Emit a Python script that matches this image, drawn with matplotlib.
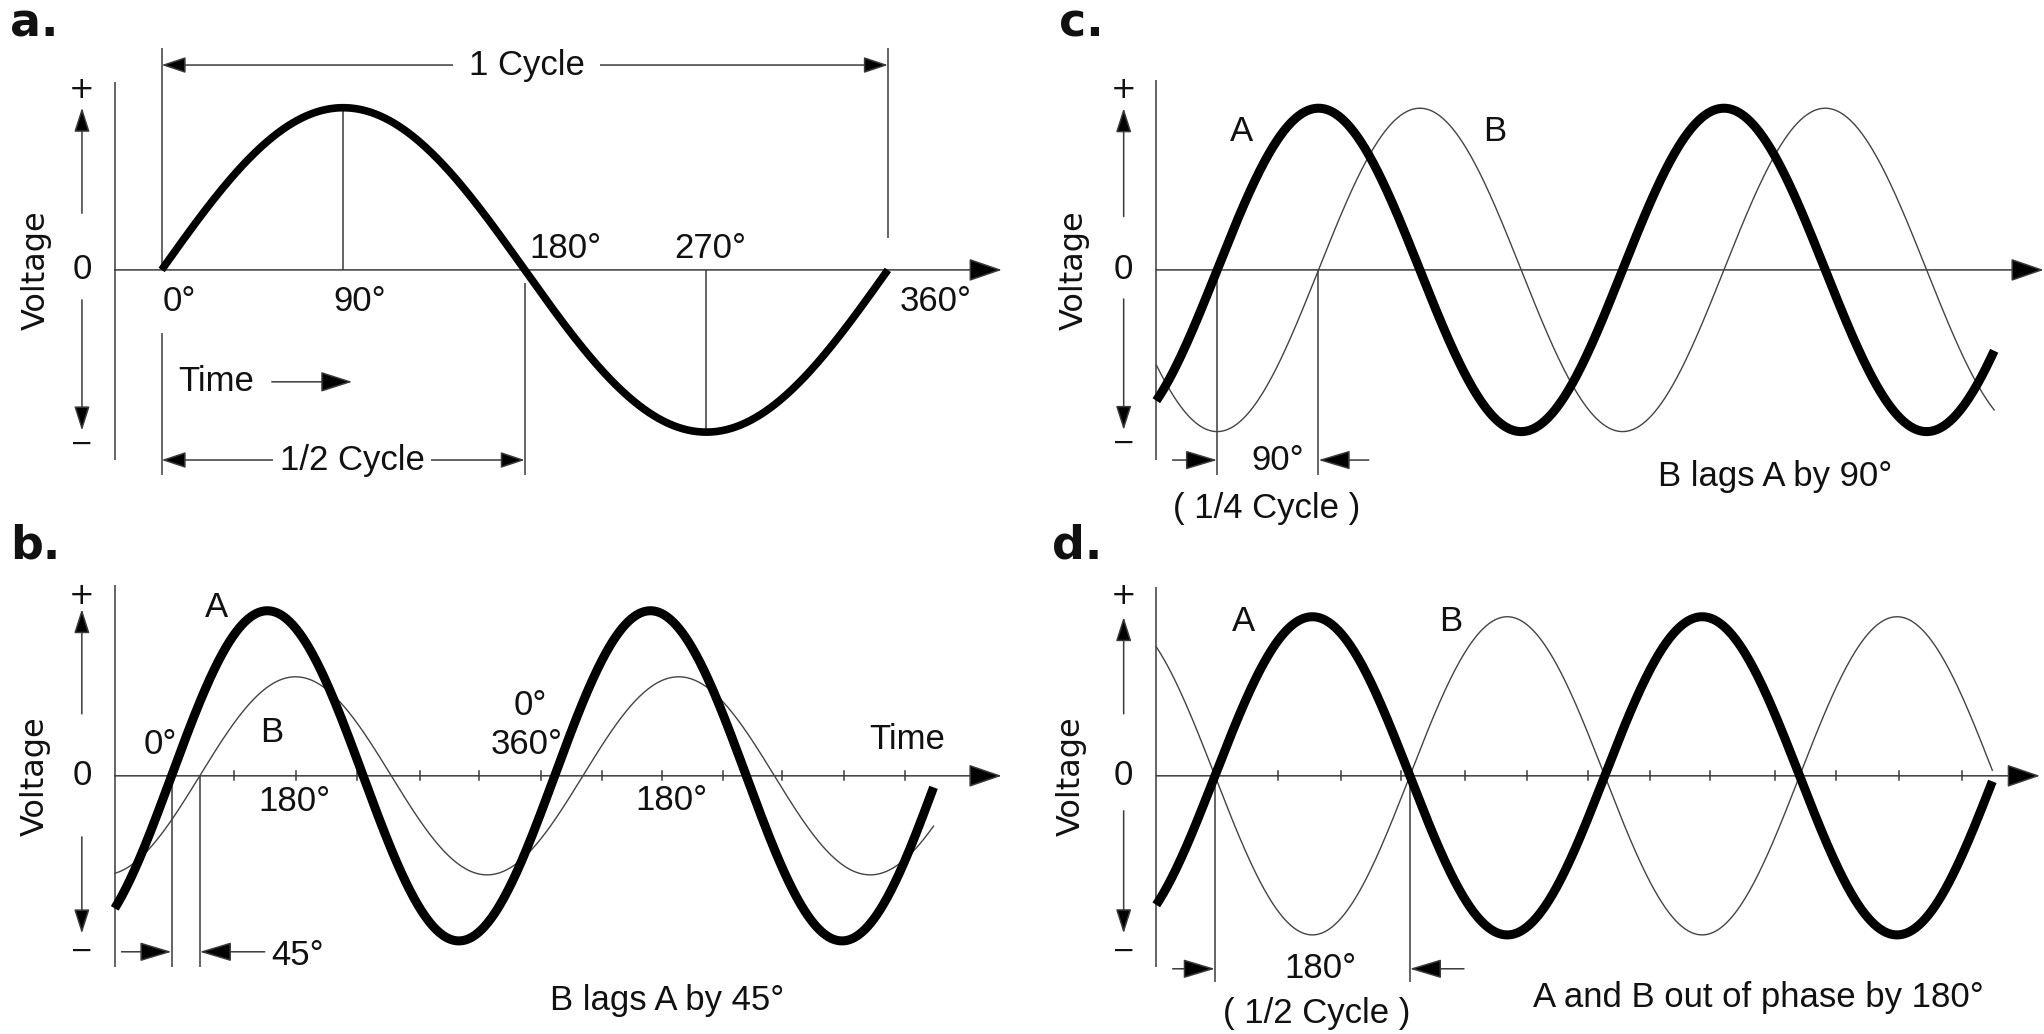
import numpy as np
import matplotlib
matplotlib.use("Agg")
import matplotlib.pyplot as plt
from matplotlib import font_manager

# ---------------- data ----------------
# a. one full cycle of a sine wave
a_range_deg = [0, 360]
a_marks_deg = [0, 90, 180, 270, 360]
a_labels = ["0°", "90°", "180°", "270°", "360°"]

# b. A and B (B lags A, smaller amplitude)
b_range_deg = [-53.4, 716]
b_amplitude = [1.0, 0.6]
b_lag_deg = [0.0, 26.5]
b_ticks_deg = [59, 117, 174, 233, 289, 347, 404, 461, 518, 574, 632, 689]

# c. B lags A by 90 degrees
c_range_deg = [-54, 690]
c_amplitude = [1.0, 1.0]
c_lag_deg = [0.0, 90.0]

# d. A and B out of phase by 180 degrees
d_range_deg = [-54.2, 718]
d_amplitude = [1.0, 1.0]
d_lag_deg = [0.0, 180.0]
d_ticks_deg = [58, 116, 172, 231, 288, 345, 402, 457, 517, 574, 632, 690]


# ---------------- style ----------------
def has_font(name):
    try:
        font_manager.findfont(font_manager.FontProperties(family=name),
                              fallback_to_default=False)
        return True
    except Exception:
        return False


if has_font("Liberation Sans Narrow"):
    FONT = ["Liberation Sans Narrow", "DejaVu Sans"]
    FS = 28
else:
    FONT = ["Liberation Sans", "DejaVu Sans"]
    FS = 25
FONT2 = ["DejaVu Sans"]
THIN = "#3a3a3a"
LW_THIN = 1.1
LW_THICK = 6.5
BIG = "-|>,head_length=1.05,head_width=0.36"
VARROW = "-|>,head_length=0.75,head_width=0.24"
DIM = "-|>,head_length=1.0,head_width=0.3"
DBL = "<|-|>,head_length=0.75,head_width=0.25"

REF_W, REF_H = 1568.0, 793.0

fig = plt.figure(figsize=(20.44, 10.34), dpi=100)
fig.patch.set_facecolor("white")


def make_axes(quad, x0, sx, y0, sy):
    xl, yt, xr, yb = quad
    ax = fig.add_axes([xl / REF_W, 1 - yb / REF_H, (xr - xl) / REF_W, (yb - yt) / REF_H])
    ax.set_xlim((xl - x0) / sx, (xr - x0) / sx)
    ax.set_ylim((y0 - yb) / sy, (y0 - yt) / sy)
    ax.axis("off")
    return ax


def arrow(ax, start, end, style, lw=LW_THIN, color=THIN):
    ax.annotate("", xy=end, xytext=start, annotation_clip=False,
                arrowprops=dict(arrowstyle=style, lw=lw, color=color, fc="black",
                                shrinkA=0, shrinkB=0, mutation_scale=20))


def vline(ax, x, v0, v1):
    ax.plot([x, x], [v0, v1], color=THIN, lw=LW_THIN, clip_on=False, solid_capstyle="butt")


def txt(ax, x, y, s, fs=None, fam=None, **kw):
    kw.setdefault("ha", "center")
    kw.setdefault("va", "center")
    ax.text(x, y, s, fontsize=fs or FS, family=fam or FONT, color="#111111",
            clip_on=False, **kw)


def frame(ax, axis_x, v_top, v_bot, arr_x, up, down, plus_v, minus_v, volt_x, zero_end):
    vline(ax, axis_x, v_top, v_bot)
    arrow(ax, (axis_x, 0), (zero_end, 0), BIG)
    arrow(ax, (arr_x, up[0]), (arr_x, up[1]), VARROW)
    arrow(ax, (arr_x, down[0]), (arr_x, down[1]), VARROW)
    txt(ax, arr_x, plus_v, "+", fs=22, fam=FONT2)
    txt(ax, arr_x, minus_v, "\u2212", fs=20, fam=FONT2)
    txt(ax, arr_x, 0, "0")
    txt(ax, volt_x, 0, "Voltage", fs=23, fam=FONT2, rotation=90)


def waves(ax, rng, amps, lags):
    x = np.linspace(rng[0], rng[1], 800)
    for i, (amp, lag) in enumerate(zip(amps, lags)):
        y = amp * np.sin(np.radians(x - lag))
        if i == 0:
            ax.plot(x, y, color="black", lw=LW_THICK, clip_on=False, zorder=4,
                    solid_capstyle="butt")
        else:
            ax.plot(x, y, color="#444444", lw=1.0, clip_on=False, zorder=3)


# ---------------- panel a ----------------
ax = make_axes((0, 0, 784, 396.5), 124.0, 1.5475, 207.0, 124.4)
frame(ax, -23.3, 1.161, -1.172, -39.5, (0.349, 1.0), (-0.185, -0.99),
      1.11, -1.07, -62.3, 416.5)
xa = np.linspace(a_range_deg[0], a_range_deg[1], 600)
ax.plot(xa, np.sin(np.radians(xa)), color="black", lw=5.5, clip_on=False, zorder=4,
        solid_capstyle="butt")
# guide lines
vline(ax, a_marks_deg[0], 1.367, 0)
vline(ax, a_marks_deg[0], -0.391, -1.265)
vline(ax, a_marks_deg[1], 1.0, 0)
vline(ax, a_marks_deg[2], -0.08, -1.265)
vline(ax, a_marks_deg[3], 0, -1.0)
vline(ax, a_marks_deg[4], 1.367, 0.195)
# cycle dimension arrows
arrow(ax, (a_marks_deg[0], 1.263), (a_marks_deg[4], 1.263), DBL)
txt(ax, 181, 1.263, "1 Cycle",
    bbox=dict(boxstyle="square,pad=0.45", fc="white", ec="none"))
arrow(ax, (a_marks_deg[0], -1.172), (a_marks_deg[2], -1.172), DBL)
txt(ax, 94.4, -1.172, "1/2 Cycle",
    bbox=dict(boxstyle="square,pad=0.2", fc="white", ec="none"))
# time arrow
txt(ax, 8.1, -0.69, "Time", ha="left")
arrow(ax, (54.6, -0.69), (94.5, -0.69), "-|>,head_length=1.0,head_width=0.32")
# degree labels
lab_pos = [(9, -0.196), (98.2, -0.196), (200.3, 0.133), (272, 0.133), (383.8, -0.196)]
for (px, py), s in zip(lab_pos, a_labels):
    txt(ax, px, py, s)

# ---------------- panel b ----------------
ax = make_axes((0, 396.5, 784, 793), 131.6, 0.8164, 595.0, 126.6)
frame(ax, -53.4, 1.153, -1.161, -84.3, (0.375, 1.01), (-0.37, -0.955),
      1.092, -1.06, -128, 780)
for t in b_ticks_deg:
    ax.plot([t, t], [-0.028, 0.028], color=THIN, lw=LW_THIN, clip_on=False)
waves(ax, b_range_deg, b_amplitude, b_lag_deg)
vline(ax, b_lag_deg[0], 0, -1.161)
vline(ax, b_lag_deg[1], 0, -1.161)
arrow(ax, (-47, -1.066), (b_lag_deg[0], -1.066), DIM)
arrow(ax, (87.5, -1.066), (b_lag_deg[1], -1.066), DIM)
txt(ax, 94, -1.09, "45°", ha="left")
txt(ax, 466, -1.36, "B lags A by 45°")
txt(ax, 42, 1.02, "A")
txt(ax, 94, 0.265, "B")
txt(ax, -10.5, 0.19, "0°")
txt(ax, 115.6, -0.158, "180°")
txt(ax, 337, 0.427, "0°")
txt(ax, 333.7, 0.19, "360°")
txt(ax, 469.6, -0.15, "180°")
txt(ax, 691, 0.223, "Time")

# ---------------- panel c ----------------
ax = make_axes((784, 0, 1568, 396.5), 933.7, 0.8639, 207.0, 124.0)
frame(ax, -54, 1.174, -1.176, -83, (0.33, 1.0), (-0.18, -0.99),
      1.113, -1.07, -127, 734)
waves(ax, c_range_deg, c_amplitude, c_lag_deg)
vline(ax, c_lag_deg[0], 0, -1.27)
vline(ax, c_lag_deg[1], 0, -1.27)
arrow(ax, (-39.6, -1.176), (c_lag_deg[0], -1.176), DIM)
arrow(ax, (134.6, -1.176), (c_lag_deg[1], -1.176), DIM)
txt(ax, 53.6, -1.176, "90°")
txt(ax, 44.3, -1.476, "( 1/4 Cycle )")
txt(ax, 21.2, 0.855, "A")
txt(ax, 246.5, 0.855, "B")
txt(ax, 495.4, -1.28, "B lags A by 90°")

# ---------------- panel d ----------------
ax = make_axes((784, 396.5, 1568, 793), 932.0, 0.8306, 595.0, 122.0)
frame(ax, -54.2, 1.189, -1.203, -84.3, (0.39, 0.998), (-0.22, -0.99),
      1.134, -1.098, -132.4, 762)
for t in d_ticks_deg:
    ax.plot([t, t], [-0.028, 0.028], color=THIN, lw=LW_THIN, clip_on=False)
waves(ax, d_range_deg, d_amplitude, d_lag_deg)
vline(ax, d_lag_deg[0], 0, -1.295)
vline(ax, d_lag_deg[1], 0, -1.295)
arrow(ax, (-39, -1.213), (d_lag_deg[0], -1.213), DIM)
arrow(ax, (230, -1.213), (d_lag_deg[1], -1.213), DIM)
txt(ax, 97, -1.213, "180°")
txt(ax, 94, -1.497, "( 1/2 Cycle )")
txt(ax, 502, -1.393, "A and B out of phase by 180°")
txt(ax, 26.5, 0.967, "A")
txt(ax, 218, 0.967, "B")

# ---------------- panel letters ----------------
for s, xd, yd in [("a.", 8, 28), ("c.", 812, 28), ("b.", 8, 428.6), ("d.", 807, 428.6)]:
    fig.text(xd / REF_W, 1 - yd / REF_H, s, fontsize=33, family=FONT2,
             fontweight="bold", ha="left", va="baseline", color="#111111")

fig.savefig("out.png", dpi=100, facecolor="white")
